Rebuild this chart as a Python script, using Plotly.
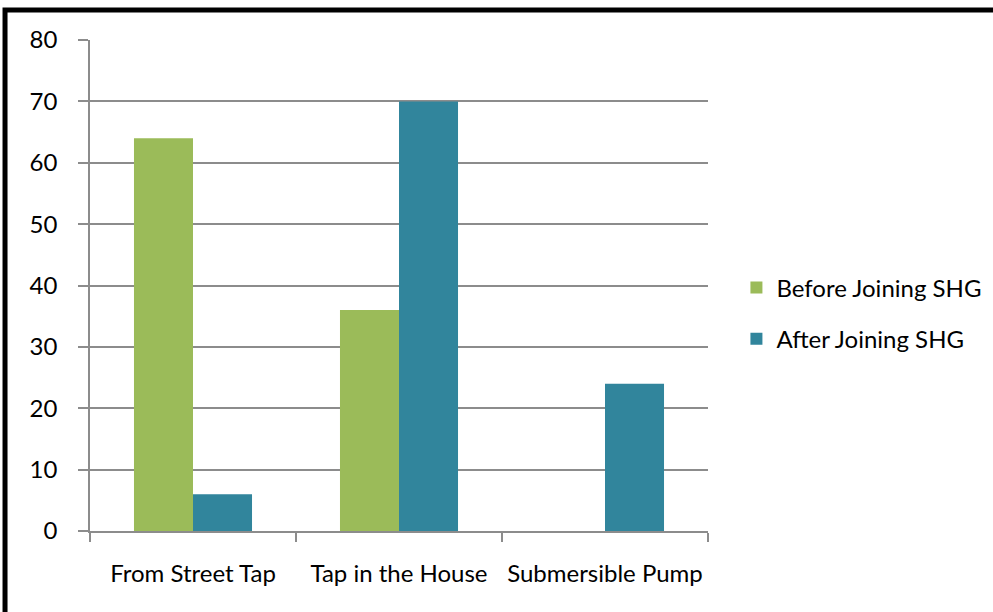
import plotly.graph_objects as go

categories = ["From Street Tap", "Tap in the House", "Submersible Pump"]
before_shg = [64, 36, 0]
after_shg = [6, 70, 24]
y_ticks = [0, 10, 20, 30, 40, 50, 60, 70, 80]

GREEN = "#9BBB59"
BLUE = "#31859C"
GRID = "#8C8C8C"
FONT = dict(family="Lato, Carlito, Calibri, sans-serif", size=24, color="#000000")

fig = go.Figure()
fig.add_trace(go.Bar(name="Before Joining SHG", x=categories, y=before_shg,
                     marker=dict(color=GREEN, line=dict(width=0)), legendgroup="a"))
fig.add_trace(go.Bar(name="After Joining SHG", x=categories, y=after_shg,
                     marker=dict(color=BLUE, line=dict(width=0)), legendgroup="b"))

fig.update_layout(
    width=993, height=612,
    margin=dict(l=90, r=285, t=40, b=81, autoexpand=False),
    paper_bgcolor="white", plot_bgcolor="white",
    font=FONT,
    barmode="group", bargap=0.427, bargroupgap=0,
    showlegend=True,
    legend=dict(x=1.046, y=0.443, xanchor="left", yanchor="middle",
                font=FONT, tracegroupgap=17, itemwidth=30,
                bgcolor="rgba(0,0,0,0)"),
    xaxis=dict(type="category", tickson="boundaries", ticks="outside", ticklen=9,
               tickcolor=GRID, tickwidth=1.5, showline=True, linecolor=GRID,
               linewidth=1.5, showgrid=False, ticklabelstandoff=20,
               tickangle=0, automargin=False, tickfont=FONT),
    yaxis=dict(range=[0, 80], tickvals=y_ticks, ticks="outside", ticklen=10,
               tickcolor=GRID, tickwidth=1.5, showline=True, linecolor=GRID,
               linewidth=1.5, showgrid=True, gridcolor=GRID, gridwidth=1.5,
               zeroline=False, ticklabelstandoff=16, automargin=False,
               tickfont=FONT),
    shapes=[dict(type="rect", xref="paper", yref="paper",
                 x0=-0.1375, x1=1.55, y0=-0.3, y1=1.0611,
                 line=dict(color="black", width=5), fillcolor="rgba(0,0,0,0)",
                 layer="above")],
)

fig.write_html("out.html")
